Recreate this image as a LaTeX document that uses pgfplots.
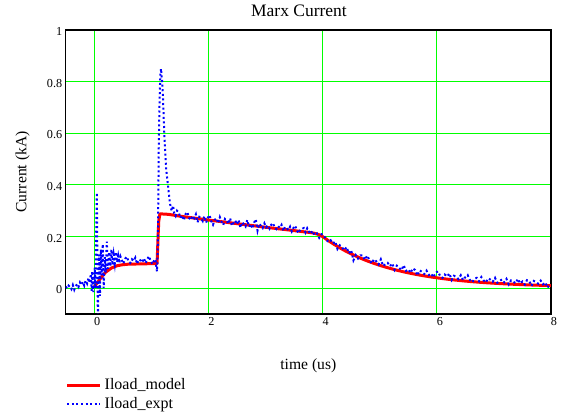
\documentclass[border=0pt]{standalone}
\usepackage{fontspec}
\setmainfont{Liberation Serif}
\usepackage{pgfplots}
\pgfplotsset{compat=1.18}

\pgfplotsset{
  legend image code/.code={\draw[#1] (0bp,0bp) -- (33bp,0bp);}
}

\begin{document}
\begin{tikzpicture}
\useasboundingbox (0,0) rectangle (564bp,417bp);
\begin{axis}[
  at={(65.7bp,103bp)}, anchor=south west,
  scale only axis, width=485.3bp, height=284bp,
  xmin=-0.5, xmax=8, ymin=-0.1, ymax=1,
  xtick={0,2,4,6,8},
  ytick={0,0.2,0.4,0.6,0.8,1},
  yticklabels={0,0.2,0.4,0.6,0.8,1},
  major tick length=0pt,
  grid=major,
  grid style={color=green, line width=1bp},
  axis line style={black, line width=1.1bp},
  /pgf/number format/assume math mode=true,
  tick label style={font=\fontsize{12.2bp}{14bp}\selectfont},
  xticklabel style={xshift=3bp},
  yticklabel style={yshift=-1.5bp},
  every axis title shift=0pt,
  title={Marx Current},
  title style={at={(axis description cs:0.4807,1)}, anchor=base, yshift=13.3bp,
               font=\fontsize{17.5bp}{20bp}\selectfont},
  xlabel={time (us)},
  x label style={at={(axis description cs:0.5,0)}, anchor=base, yshift=-55bp,
                 font=\fontsize{15.6bp}{18bp}\selectfont},
  ylabel={Current (kA)},
  y label style={at={(axis description cs:-0.0808,0.5)}, anchor=base, rotate=0,
                 font=\fontsize{15.6bp}{18bp}\selectfont},
  legend cell align=left,
  legend style={at={(axis description cs:0,0)}, anchor=north west, yshift=-64bp,
                draw=none, fill=none, inner sep=0pt, outer sep=0pt,
                font=\fontsize{16bp}{19bp}\selectfont,
                row sep=5.4bp, column sep=3bp,
                nodes={inner sep=0pt, text height=11bp, text depth=3bp}},
]

% model load current
\addplot[red, line width=3bp, line join=round] coordinates {
(0.00,0.005) (0.05,0.020) (0.10,0.035) (0.15,0.050) (0.20,0.062) (0.30,0.078)
(0.40,0.087) (0.50,0.091) (0.60,0.093) (0.80,0.094) (1.00,0.095) (1.10,0.096)
(1.11,0.150) (1.12,0.210) (1.13,0.260) (1.15,0.288) (1.30,0.286) (1.50,0.279)
(2.00,0.264) (2.50,0.250) (3.00,0.236) (3.50,0.223) (3.80,0.215) (3.85,0.213)
(3.90,0.210) (3.95,0.206) (4.00,0.200) (4.10,0.1842) (4.20,0.1698) (4.30,0.1564)
(4.40,0.1441) (4.50,0.1329) (4.60,0.1225) (4.70,0.1129) (4.80,0.1041) (4.90,0.0961)
(5.00,0.0886) (5.10,0.0818) (5.20,0.0755) (5.30,0.0697) (5.40,0.0643) (5.50,0.0594)
(5.60,0.0549) (5.70,0.0508) (5.80,0.0470) (5.90,0.0434) (6.00,0.0402) (6.10,0.0372)
(6.20,0.0345) (6.30,0.0320) (6.40,0.0297) (6.50,0.0275) (6.60,0.0256) (6.70,0.0238)
(6.80,0.0221) (6.90,0.0206) (7.00,0.0192) (7.10,0.0179) (7.20,0.0167) (7.30,0.0156)
(7.40,0.0146) (7.50,0.0137) (7.60,0.0128) (7.70,0.0120) (7.80,0.0113) (7.90,0.0106)
(8.00,0.0100)
};
\addlegendentry{Iload\_model}

% measured load current
\addplot[blue, line width=2bp, dash pattern=on 2bp off 2.6bp] coordinates {
(-0.500,0.006) (-0.475,0.000) (-0.450,0.010) (-0.425,0.004) (-0.400,-0.004)
(-0.375,0.012) (-0.350,-0.006) (-0.325,0.008) (-0.300,0.015) (-0.275,0.005)
(-0.250,0.022) (-0.225,0.012) (-0.200,0.025) (-0.175,0.010) (-0.150,0.030)
(-0.125,0.018) (-0.100,0.040) (-0.080,0.020) (-0.060,0.055) (-0.045,-0.010)
(-0.035,0.065) (-0.025,0.030) (-0.015,-0.015) (0.000,0.040) (0.010,0.080)
(0.020,0.000) (0.030,0.150) (0.040,0.300) (0.045,0.370) (0.050,0.250)
(0.055,0.100) (0.060,-0.050) (0.065,-0.130) (0.070,0.020) (0.085,0.130)
(0.100,-0.030) (0.115,0.150) (0.130,0.050) (0.150,0.170) (0.165,0.000)
(0.185,0.120) (0.200,0.060) (0.220,0.180) (0.240,0.075) (0.260,0.140)
(0.280,0.085) (0.300,0.150) (0.320,0.090) (0.340,0.130) (0.360,0.095)
(0.380,0.140) (0.400,0.100) (0.420,0.125) (0.440,0.098) (0.460,0.122)
(0.48,0.110) (0.51,0.095) (0.54,0.114) (0.57,0.122)
(0.60,0.104) (0.63,0.098) (0.66,0.112) (0.69,0.105) (0.72,0.118) (0.75,0.094)
(0.78,0.111) (0.81,0.108) (0.84,0.100) (0.87,0.116) (0.90,0.097) (0.93,0.113)
(0.96,0.124) (0.99,0.103) (1.02,0.093) (1.05,0.108) (1.07,0.112)
(1.080,0.098) (1.090,0.075) (1.100,0.065) (1.105,0.090) (1.110,0.140)
(1.115,0.200) (1.120,0.300) (1.125,0.420) (1.130,0.550) (1.140,0.680)
(1.150,0.780) (1.160,0.830) (1.170,0.850) (1.180,0.820) (1.190,0.800)
(1.200,0.760) (1.210,0.700) (1.220,0.640) (1.230,0.580) (1.245,0.520)
(1.260,0.460) (1.280,0.420) (1.300,0.380) (1.320,0.340) (1.340,0.310)
(1.360,0.300) (1.380,0.320) (1.400,0.290) (1.425,0.280) (1.450,0.300)
(1.48,0.293) (1.51,0.272) (1.54,0.282) (1.57,0.263) (1.60,0.287) (1.63,0.295)
(1.66,0.272) (1.69,0.264) (1.72,0.280) (1.75,0.271) (1.78,0.286) (1.81,0.255)
(1.84,0.276) (1.87,0.271) (1.90,0.260) (1.93,0.279) (1.96,0.254) (1.99,0.273)
(2.02,0.283) (2.05,0.259) (2.08,0.246) (2.11,0.265) (2.14,0.270) (2.17,0.251)
(2.20,0.275) (2.23,0.257) (2.26,0.245) (2.29,0.268) (2.32,0.261) (2.35,0.249)
(2.38,0.271) (2.41,0.242) (2.44,0.253) (2.47,0.262) (2.50,0.247) (2.53,0.264)
(2.56,0.234) (2.59,0.255) (2.62,0.248) (2.65,0.239) (2.68,0.264) (2.71,0.238)
(2.74,0.248) (2.77,0.231) (2.80,0.254) (2.83,0.267) (2.86,0.223) (2.89,0.249)
(2.92,0.242) (2.95,0.233) (2.98,0.251) (3.01,0.236) (3.04,0.243) (3.07,0.231)
(3.10,0.246) (3.13,0.252) (3.16,0.235) (3.19,0.229) (3.22,0.240) (3.25,0.234)
(3.28,0.245) (3.31,0.222) (3.34,0.237) (3.37,0.233) (3.40,0.225) (3.43,0.238)
(3.46,0.220) (3.49,0.234) (3.52,0.242) (3.55,0.223) (3.58,0.213) (3.61,0.227)
(3.64,0.230) (3.67,0.233) (3.70,0.216) (3.73,0.232) (3.76,0.219) (3.79,0.210)
(3.82,0.222) (3.86,0.206) (3.90,0.212) (3.94,0.195) (3.98,0.209) (4.02,0.205)
(4.06,0.188) (4.10,0.180) (4.14,0.186) (4.18,0.173) (4.22,0.181) (4.26,0.152)
(4.30,0.166) (4.34,0.158) (4.38,0.147) (4.42,0.159) (4.46,0.135) (4.50,0.147)
(4.54,0.108) (4.58,0.128) (4.62,0.115) (4.66,0.127) (4.70,0.127) (4.74,0.110)
(4.78,0.126) (4.82,0.109) (4.86,0.096) (4.90,0.112) (4.94,0.104) (4.98,0.092)
(5.02,0.112) (5.06,0.086) (5.10,0.093) (5.14,0.098) (5.18,0.085) (5.22,0.096)
(5.26,0.071) (5.30,0.087) (5.34,0.079) (5.38,0.070) (5.42,0.089) (5.46,0.067)
(5.50,0.073) (5.54,0.059) (5.58,0.077) (5.62,0.070) (5.66,0.049) (5.70,0.069)
(5.74,0.063) (5.78,0.055) (5.82,0.068) (5.86,0.051) (5.90,0.057) (5.94,0.042)
(5.98,0.060) (6.02,0.065) (6.06,0.047) (6.10,0.040) (6.14,0.053) (6.18,0.045)
(6.22,0.057) (6.26,0.032) (6.30,0.048) (6.34,0.044) (6.38,0.035) (6.42,0.050)
(6.46,0.031) (6.50,0.043) (6.54,0.051) (6.58,0.032) (6.62,0.023) (6.66,0.036)
(6.70,0.040) (6.74,0.027) (6.78,0.043) (6.82,0.030) (6.86,0.022) (6.90,0.038)
(6.94,0.033) (6.98,0.025) (7.02,0.040) (7.06,0.021) (7.10,0.027) (7.14,0.034)
(7.18,0.023) (7.22,0.036) (7.26,0.015) (7.30,0.030) (7.34,0.025) (7.38,0.019)
(7.42,0.036) (7.46,0.018) (7.50,0.026) (7.54,0.014) (7.58,0.031) (7.62,0.027)
(7.66,0.009) (7.70,0.028) (7.74,0.023) (7.78,0.017) (7.82,0.029) (7.86,0.015)
(7.90,0.022) (7.94,0.002) (7.98,0.018)
};
\addlegendentry{Iload\_expt}

\end{axis}
\end{tikzpicture}
\end{document}
